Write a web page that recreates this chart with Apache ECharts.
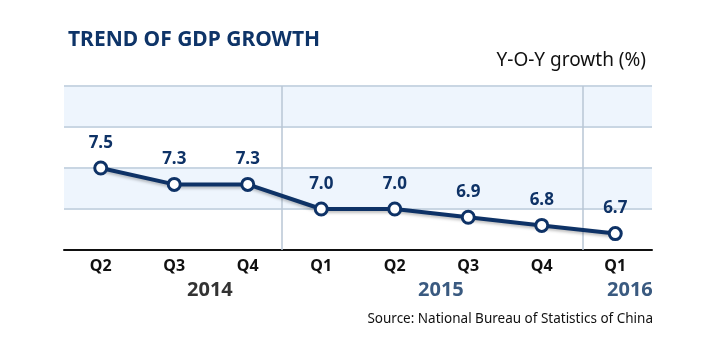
<!DOCTYPE html>
<html><head><meta charset="utf-8">
<script src="https://cdn.jsdelivr.net/npm/echarts@6/dist/echarts.min.js"></script>
<style>html,body{margin:0;padding:0;background:#fff}#c{width:715px;height:345px}</style>
</head><body><div id="c"></div>
<script>
const quarters = ['Q2','Q3','Q4','Q1','Q2','Q3','Q4','Q1'];
const growth = [7.5, 7.3, 7.3, 7.0, 7.0, 6.9, 6.8, 6.7];
const yTicks = {min: 6.5, max: 8.5, interval: 0.5};
const years = ['2014', '2015', '2016'];
const yearBreaks = [2.96, 7.06];
const chart = echarts.init(document.getElementById('c'));
const F = '"Noto Sans", "Open Sans", sans-serif';
chart.setOption({
  animation: false,
  backgroundColor: '#fff',
  grid: {left: 64, top: 86, width: 588, height: 164, containLabel: false},
  title: {text: 'TREND OF GDP GROWTH', left: 63, top: 25,
    textStyle: {color: '#0e3468', fontSize: 21, fontWeight: 'bold', fontFamily: F}},
  xAxis: [{type: 'category', data: quarters, boundaryGap: true,
    axisLine: {lineStyle: {color: '#111', width: 2}},
    axisTick: {show: false},
    axisLabel: {color: '#111', fontSize: 16, fontWeight: 'bold', fontFamily: F, margin: 8},
    splitLine: {show: false}
  }, {type: 'value', min: 0, max: 8, show: false, position: 'bottom'}],
  yAxis: {type: 'value', min: yTicks.min, max: yTicks.max, interval: yTicks.interval,
    axisLine: {show: false}, axisTick: {show: false}, axisLabel: {show: false},
    splitLine: {lineStyle: {color: '#c9d6e3', width: 2}},
    splitArea: {show: true, areaStyle: {color: ['#ffffff', '#eef5fd']}}
  },
  series: [{
    type: 'line', xAxisIndex: 1, data: [], silent: true,
    markLine: {silent: true, symbol: 'none', label: {show: false},
      lineStyle: {color: '#b8c6d4', width: 1.5, type: 'solid'},
      data: yearBreaks.map(v => ({xAxis: v}))}
  }, {
    type: 'line', data: growth, symbol: 'circle', symbolSize: 12, z: 5,
    lineStyle: {color: '#0e3266', width: 4, shadowColor: 'rgba(0,0,0,0.25)', shadowBlur: 3, shadowOffsetY: 2},
    itemStyle: {color: '#fff', borderColor: '#0e3266', borderWidth: 3},
    label: {show: true, position: 'top', distance: 9, formatter: (p) => p.value.toFixed(1),
      color: '#0e3266', fontSize: 17, fontWeight: 'bold', fontFamily: F}
  }],
  graphic: [
    {type: 'text', right: 69, top: 51, style: {text: 'Y-O-Y growth (%)', fill: '#111', font: '19px ' + F}},
    {type: 'text', left: 187, top: 280, style: {text: years[0], fill: '#333', font: 'bold 20px ' + F}},
    {type: 'text', left: 418, top: 280, style: {text: years[1], fill: '#3a5a80', font: 'bold 20px ' + F}},
    {type: 'text', left: 607, top: 280, style: {text: years[2], fill: '#3a5a80', font: 'bold 20px ' + F}},
    {type: 'text', right: 62, top: 312, style: {text: 'Source: National Bureau of Statistics of China', fill: '#111', font: '13.5px ' + F}}
  ]
});
</script></body></html>
